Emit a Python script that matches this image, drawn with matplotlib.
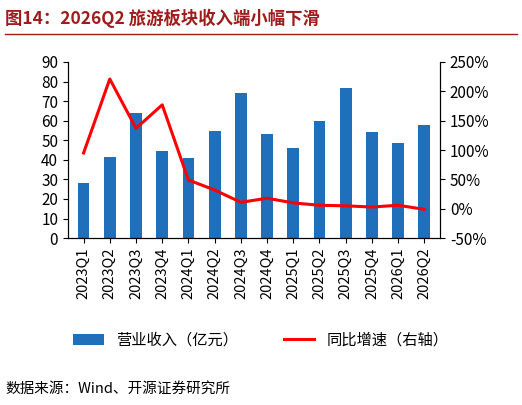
import matplotlib.pyplot as plt
from matplotlib.lines import Line2D

plt.rcParams['font.family'] = ['Noto Sans CJK SC', 'DejaVu Sans']

quarters = ['2023Q1', '2023Q2', '2023Q3', '2023Q4', '2024Q1', '2024Q2', '2024Q3',
            '2024Q4', '2025Q1', '2025Q2', '2025Q3', '2025Q4', '2026Q1', '2026Q2']
revenue = [28, 41.5, 64, 44.5, 41, 54.5, 74, 53, 46, 60, 76.5, 54, 48.5, 58]
yoy = [95, 221, 137, 177, 49, 32, 11, 18, 10, 6, 5, 3, 6, -1]

fig = plt.figure(figsize=(5.22, 4.05), dpi=100)
ax = fig.add_axes([0.13, 0.412, 0.713, 0.435])
x = range(len(quarters))
ax.bar(x, revenue, width=0.45, color='#1F6FBA', label='营业收入（亿元）')
ax.set_ylim(0, 90)
ax.set_yticks(range(0, 91, 10))
ax.set_xlim(-0.6, len(quarters) - 0.4)
ax.set_xticks(list(x))
ax.set_xticklabels(quarters, rotation=90, fontsize=10.5)
ax.tick_params(axis='y', labelsize=11)
for s in ['top']:
    ax.spines[s].set_visible(False)

ax2 = ax.twinx()
ax2.plot(x, yoy, color='#FF0000', lw=2.2, label='同比增速（右轴）')
ax2.set_ylim(-50, 250)
ax2.set_yticks(range(-50, 251, 50))
ax2.set_yticklabels([f'{v}%' for v in range(-50, 251, 50)], fontsize=11)
ax2.spines['top'].set_visible(False)

h1, l1 = ax.get_legend_handles_labels()
h2, l2 = ax2.get_legend_handles_labels()
fig.legend(h1 + h2, l1 + l2, loc='center', bbox_to_anchor=(0.5, 0.16), ncol=2,
           frameon=False, fontsize=11, columnspacing=3)

fig.text(0.01, 0.955, '图14：2026Q2 旅游板块收入端小幅下滑', fontsize=12.5,
         fontweight='bold', color='#A01C1C', va='center')
fig.add_artist(Line2D([0.01, 0.99], [0.915, 0.915], color='#A01C1C', lw=1))
fig.text(0.01, 0.04, '数据来源：Wind、开源证券研究所', fontsize=10.5, va='center')

fig.savefig('out.png')
